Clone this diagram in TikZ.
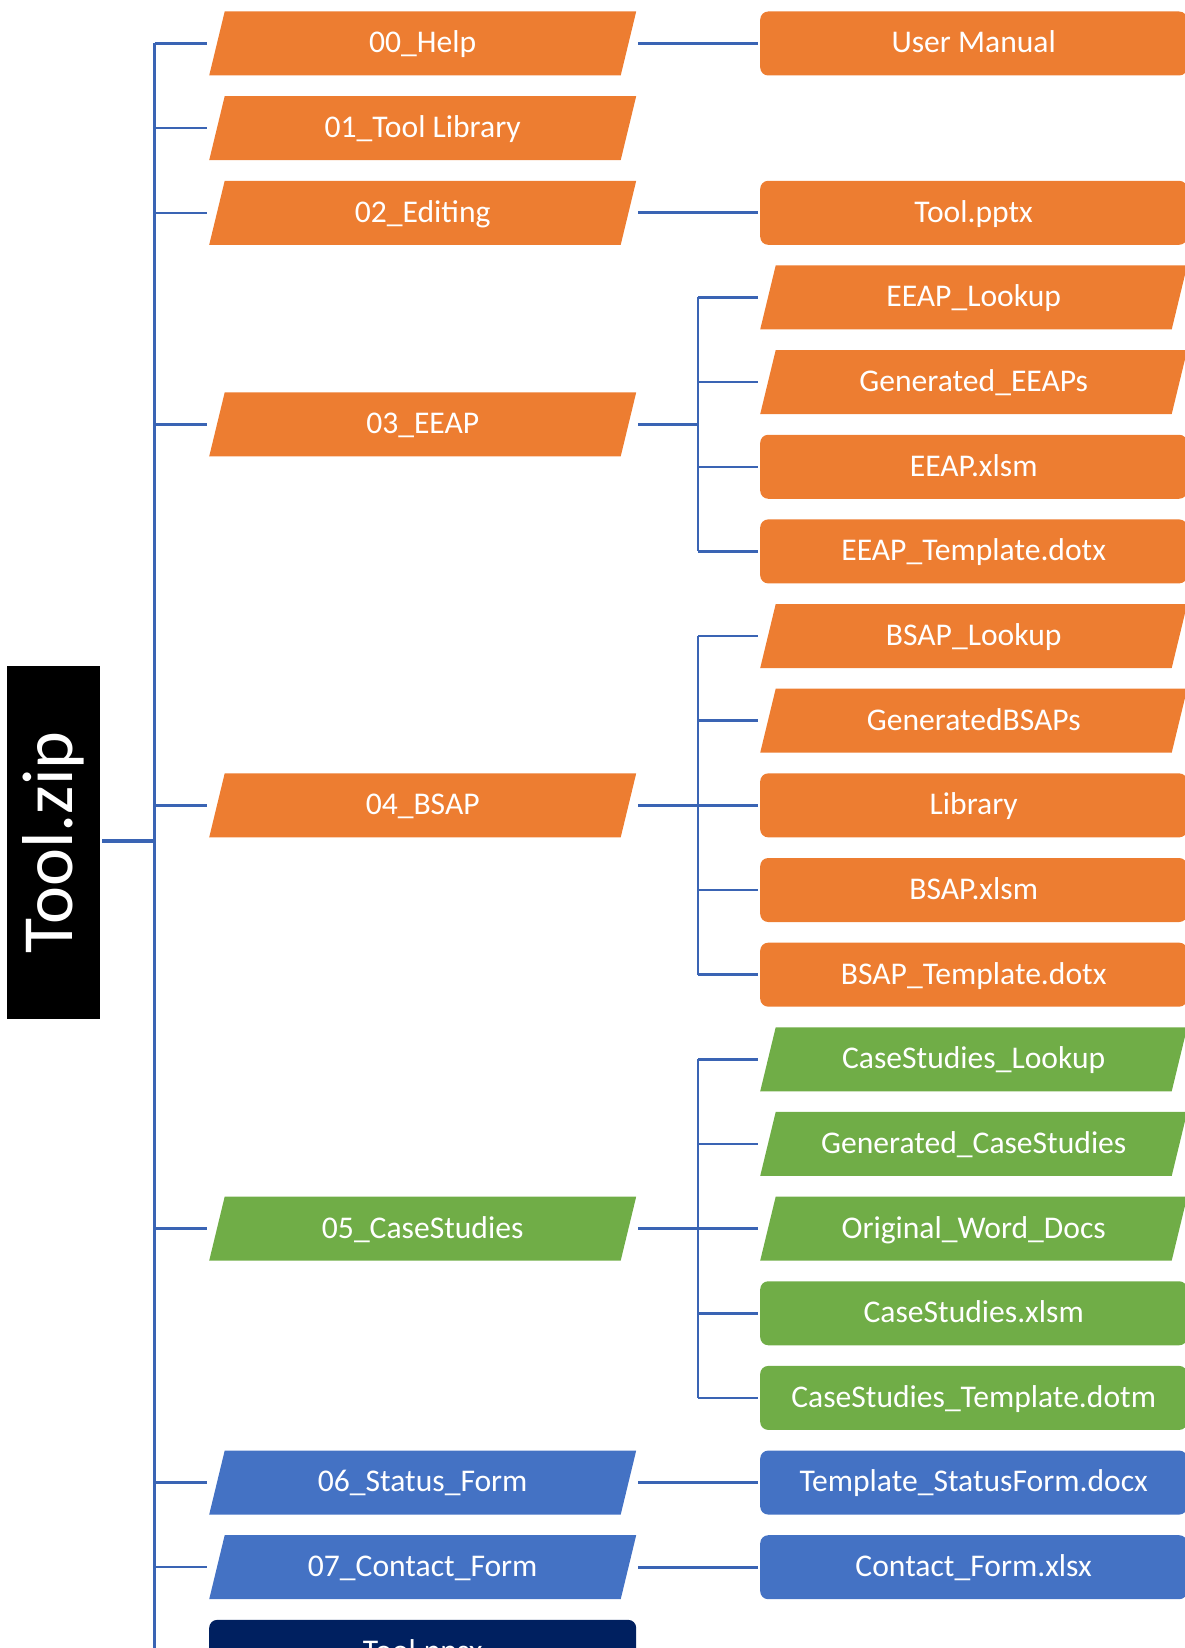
\documentclass[tikz,border=0pt]{standalone}
\usepackage{fontspec}
\setmainfont{Carlito}
\definecolor{cOrange}{HTML}{ED7D31}
\definecolor{cGreen}{HTML}{70AD47}
\definecolor{cBlue}{HTML}{4472C4}
\definecolor{cNavy}{HTML}{002060}
\definecolor{cLine}{HTML}{3A64B4}
\tikzset{
  base/.style={rectangle, minimum width=427pt, minimum height=64pt, inner sep=0pt,
    text=white, font=\fontsize{31.6}{38}\selectfont, text height=26pt, text depth=7.2pt},
  para/.style={base, path picture={\fill[#1] (path picture bounding box.south west)
      -- ([xshift=-15.5pt]path picture bounding box.south east)
      -- (path picture bounding box.north east)
      -- ([xshift=15.5pt]path picture bounding box.north west) -- cycle;}},
  rbox/.style={base, fill=#1, rounded corners=8pt},
  conn/.style={draw=cLine, line width=2.5pt},
  pconn/.style={draw=cLine, line width=3.2pt},
  rootconn/.style={draw=cLine, line width=4pt},
  rootbox/.style={rectangle, fill=black, minimum width=92.5pt, minimum height=353pt,
    inner sep=0pt, text=white, font=\fontsize{72}{80}\selectfont}
}
\begin{document}
\begin{tikzpicture}[x=1pt,y=-1pt]
\useasboundingbox (0,0) rectangle (1185,1648);
\clip (0,0) rectangle (1185,1648);

% root
\node[rootbox] (root) at (53.6,842.3) {\rotatebox{90}{Tool.zip}};

% left column
\node[para=cOrange] (L0) at (422.7,43.5) {00\_Help};
\node[para=cOrange] (L1) at (422.7,128.15) {01\_Tool Library};
\node[para=cOrange] (L2) at (422.7,212.8) {02\_Editing};
\node[para=cOrange] (L3) at (422.7,424.4) {03\_EEAP};
\node[para=cOrange] (L4) at (422.7,805.35) {04\_BSAP};
\node[para=cGreen] (L5) at (422.7,1228.6) {05\_CaseStudies};
\node[para=cBlue] (L6) at (422.7,1482.55) {06\_Status\_Form};
\node[para=cBlue] (L7) at (422.7,1567.2) {07\_Contact\_Form};
\node[rbox=cNavy] (L8) at (422.7,1651.85) {Tool.ppsx};

% right column
\node[rbox=cOrange] (R0) at (973.7,43.5) {User Manual};
\node[rbox=cOrange] (R2) at (973.7,212.8) {Tool.pptx};
\node[para=cOrange] (R3a) at (973.7,297.45) {EEAP\_Lookup};
\node[para=cOrange] (R3b) at (973.7,382.1) {Generated\_EEAPs};
\node[rbox=cOrange] (R3c) at (973.7,466.75) {EEAP.xlsm};
\node[rbox=cOrange] (R3d) at (973.7,551.4) {EEAP\_Template.dotx};
\node[para=cOrange] (R4a) at (973.7,636.05) {BSAP\_Lookup};
\node[para=cOrange] (R4b) at (973.7,720.7) {GeneratedBSAPs};
\node[rbox=cOrange] (R4c) at (973.7,805.35) {Library};
\node[rbox=cOrange] (R4d) at (973.7,890.0) {BSAP.xlsm};
\node[rbox=cOrange] (R4e) at (973.7,974.65) {BSAP\_Template.dotx};
\node[para=cGreen] (R5a) at (973.7,1059.3) {CaseStudies\_Lookup};
\node[para=cGreen] (R5b) at (973.7,1143.95) {Generated\_CaseStudies};
\node[para=cGreen] (R5c) at (973.7,1228.6) {Original\_Word\_Docs};
\node[rbox=cGreen] (R5d) at (973.7,1313.25) {CaseStudies.xlsm};
\node[rbox=cGreen] (R5e) at (973.7,1397.9) {CaseStudies\_Template.dotm};
\node[rbox=cBlue] (R6) at (973.7,1482.55) {Template\_StatusForm.docx};
\node[rbox=cBlue] (R7) at (973.7,1567.2) {Contact\_Form.xlsx};

% trunk
\coordinate (tk) at (154.6,1660);
\coordinate (tkroot) at (154.6,841);
\draw[rootconn] ([xshift=2pt]root.east |- tkroot) -- (tkroot);
\draw[conn] (L0.west -| tk) -- (tk);
\foreach \n in {L0,L1,L2,L3,L4,L5,L6,L7,L8}
  \draw[conn] (\n.west -| tk) -- ([xshift=-2pt]\n.west);

% single children
\draw[pconn] ([xshift=2pt]L0.east) -- ([xshift=-2pt]R0.west);
\draw[pconn] ([xshift=2pt]L2.east) -- ([xshift=-2pt]R2.west);
\draw[pconn] ([xshift=2pt]L6.east) -- ([xshift=-2pt]R6.west);
\draw[pconn] ([xshift=2pt]L7.east) -- ([xshift=-2pt]R7.west);

% sub-trunks
\coordinate (s3) at (698.2,424.4);
\draw[pconn] ([xshift=2pt]L3.east) -- (s3);
\draw[conn] (R3a.west -| s3) -- (R3d.west -| s3);
\foreach \n in {R3a,R3b,R3c,R3d}
  \draw[conn] (\n.west -| s3) -- ([xshift=-2pt]\n.west);

\coordinate (s4) at (698.2,805.35);
\draw[pconn] ([xshift=2pt]L4.east) -- (s4);
\draw[conn] (R4a.west -| s4) -- (R4e.west -| s4);
\foreach \n in {R4a,R4b,R4c,R4d,R4e}
  \draw[conn] (\n.west -| s4) -- ([xshift=-2pt]\n.west);

\coordinate (s5) at (698.2,1228.6);
\draw[pconn] ([xshift=2pt]L5.east) -- (s5);
\draw[conn] (R5a.west -| s5) -- (R5e.west -| s5);
\foreach \n in {R5a,R5b,R5c,R5d,R5e}
  \draw[conn] (\n.west -| s5) -- ([xshift=-2pt]\n.west);
\end{tikzpicture}
\end{document}
